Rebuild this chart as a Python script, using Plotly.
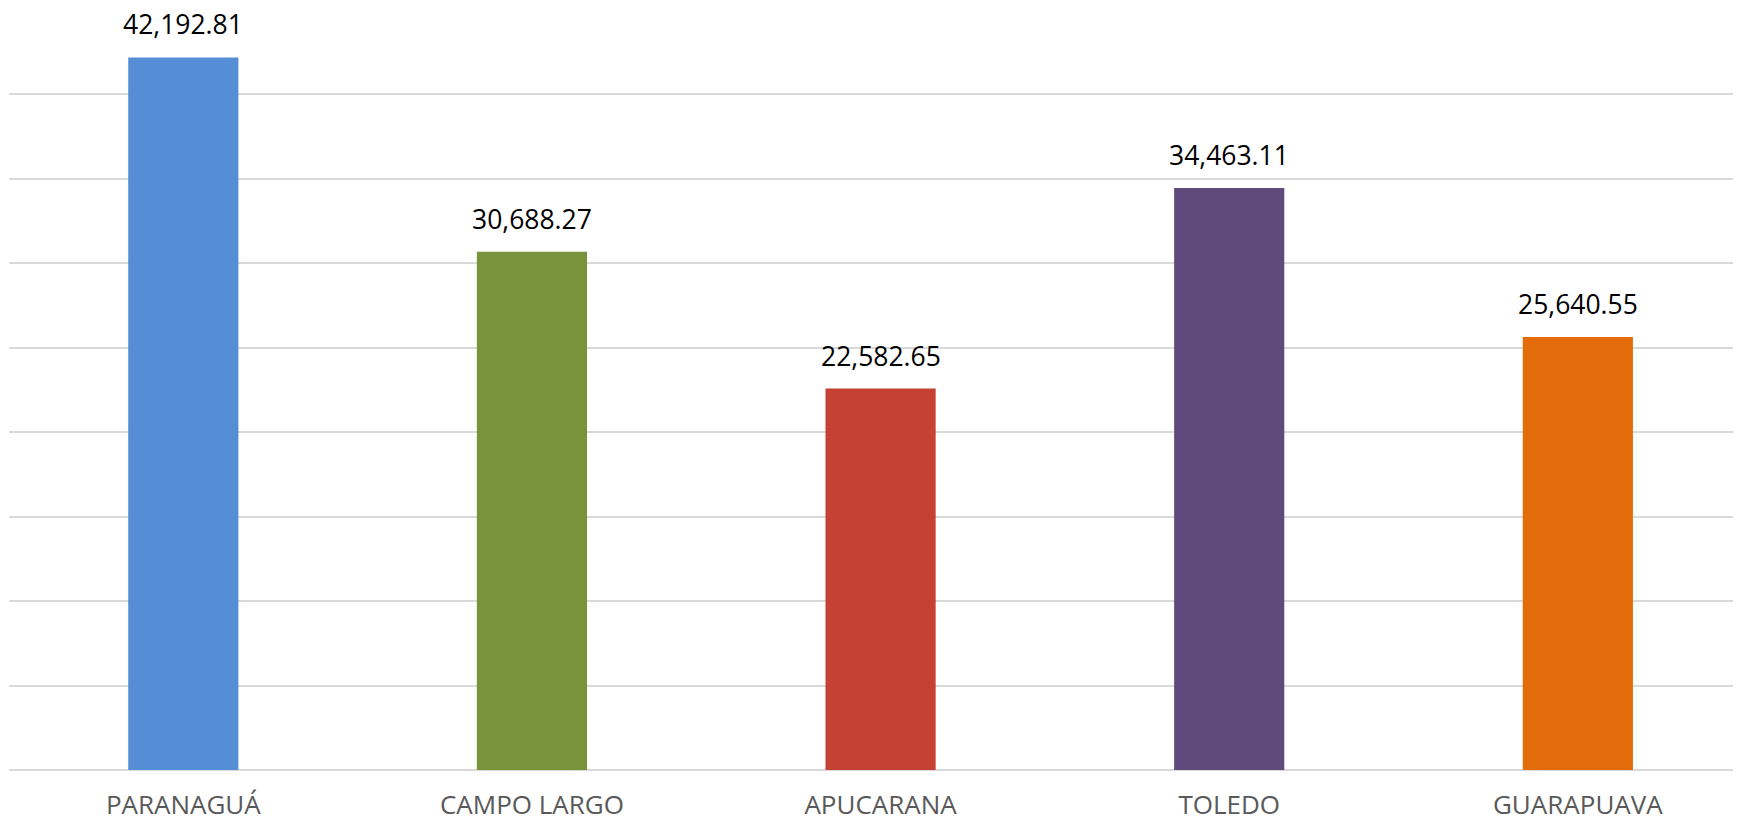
import plotly.graph_objects as go

categories = ["PARANAGUÁ", "CAMPO LARGO", "APUCARANA", "TOLEDO", "GUARAPUAVA"]
values = [42192.81, 30688.27, 22582.65, 34463.11, 25640.55]
colors = ["#558ED5", "#77933C", "#C44133", "#604A7B", "#E46C0A"]
labels = [f"{v:,.2f}" for v in values]

fig = go.Figure(go.Bar(
    x=categories, y=values,
    marker=dict(color=colors, line=dict(width=0)),
    cliponaxis=False,
))

for c, v, t in zip(categories, values, labels):
    fig.add_annotation(
        x=c, y=v, text=t, showarrow=False, yanchor="bottom", yshift=13,
        font=dict(family="Open Sans", size=26.5, color="#000000"),
    )

fig.update_layout(
    width=1741, height=820,
    margin=dict(l=1, r=8, t=2, b=58),
    paper_bgcolor="white", plot_bgcolor="white",
    bargap=0.684, showlegend=False,
    font=dict(family="Open Sans"),
)
fig.update_xaxes(
    range=[-0.5, 4.468], showgrid=False, showline=False, zeroline=False,
    tickfont=dict(family="Open Sans", size=26, color="#595959"),
    ticks="", ticklabelstandoff=17,
)
fig.update_yaxes(
    range=[0, 45000], dtick=5000, showticklabels=False,
    gridcolor="#d9d9d9", gridwidth=2,
    zeroline=True, zerolinecolor="#d9d9d9", zerolinewidth=2,
    showline=False,
)

fig.write_html("out.html")
